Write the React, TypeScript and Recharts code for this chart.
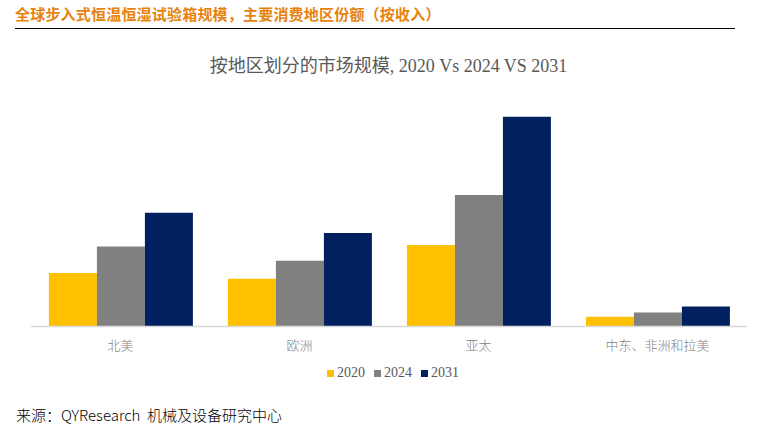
import React from 'react';
import { BarChart, Bar, XAxis, YAxis } from 'recharts';

const categories = ['北美', '欧洲', '亚太', '中东、非洲和拉美'];
const years = ['2020', '2024', '2031'];
const values2020 = [53.4, 47.7, 81.4, 9.7];
const values2024 = [80, 65.7, 131.4, 14];
const values2031 = [113.7, 93.4, 209.7, 20];
const colors = ['#FFC000', '#808080', '#002060'];

const data = categories.map((name, i) => ({
  name,
  '2020': values2020[i],
  '2024': values2024[i],
  '2031': values2031[i],
}));

const serif = "'Liberation Serif', 'DejaVu Serif', 'Noto Sans CJK SC', serif";

export default function App() {
  return (
    <div style={{ position: 'relative', width: 757, height: 429, background: '#fff', overflow: 'hidden' }}>
      <style>{'body{margin:0}'}</style>
      <div
        style={{
          position: 'absolute',
          left: 15,
          top: 4,
          fontSize: 15,
          fontWeight: 'bold',
          color: '#E8820E',
          fontFamily: "'Noto Sans CJK SC', sans-serif",
          lineHeight: '20px',
          whiteSpace: 'nowrap',
          letterSpacing: 0.2,
        }}
      >
        全球步入式恒温恒湿试验箱规模，主要消费地区份额（按收入）
      </div>
      <div style={{ position: 'absolute', left: 15, top: 28, width: 720, height: 1, background: '#000' }} />
      <div
        style={{
          position: 'absolute',
          left: 0,
          width: 777,
          top: 55,
          textAlign: 'center',
          fontSize: 18,
          color: '#595959',
          fontFamily: serif,
          lineHeight: '22px',
          whiteSpace: 'nowrap',
        }}
      >
        按地区划分的市场规模, 2020 Vs 2024 VS 2031
      </div>
      <div style={{ position: 'absolute', left: 0, top: 0 }}>
        <BarChart
          width={757}
          height={429}
          data={data}
          margin={{ top: 86.5, right: 10, bottom: 72.5, left: 31 }}
          barCategoryGap="10%"
          barGap={0}
        >
          <XAxis
            dataKey="name"
            tickLine={false}
            axisLine={{ stroke: '#D9D9D9', strokeWidth: 1.5 }}
            tick={{ fill: '#7F7F7F', fontSize: 13, fontFamily: serif, fontWeight: 300, dy: 6 }}
            height={30}
            interval={0}
          />
          <YAxis hide domain={[0, 240]} />
          {years.map((y, i) => (
            <Bar key={y} dataKey={y} fill={colors[i]} isAnimationActive={false} />
          ))}
        </BarChart>
      </div>
      <div
        style={{
          position: 'absolute',
          left: 327,
          top: 365,
          display: 'flex',
          alignItems: 'center',
          fontSize: 14,
          color: '#595959',
          fontFamily: serif,
          lineHeight: '16px',
        }}
      >
        {years.map((y, i) => (
          <span key={y} style={{ display: 'flex', alignItems: 'center', marginRight: 9 }}>
            <span style={{ display: 'inline-block', width: 7, height: 7, background: colors[i], marginRight: 3 }} />
            {y}
          </span>
        ))}
      </div>
      <div
        style={{
          position: 'absolute',
          left: 16,
          top: 404,
          fontSize: 15,
          color: '#000',
          fontWeight: 300,
          fontFamily: "'Noto Sans CJK SC', sans-serif",
          lineHeight: '22px',
          whiteSpace: 'pre',
        }}
      >
        来源：QYResearch  机械及设备研究中心
      </div>
    </div>
  );
}
